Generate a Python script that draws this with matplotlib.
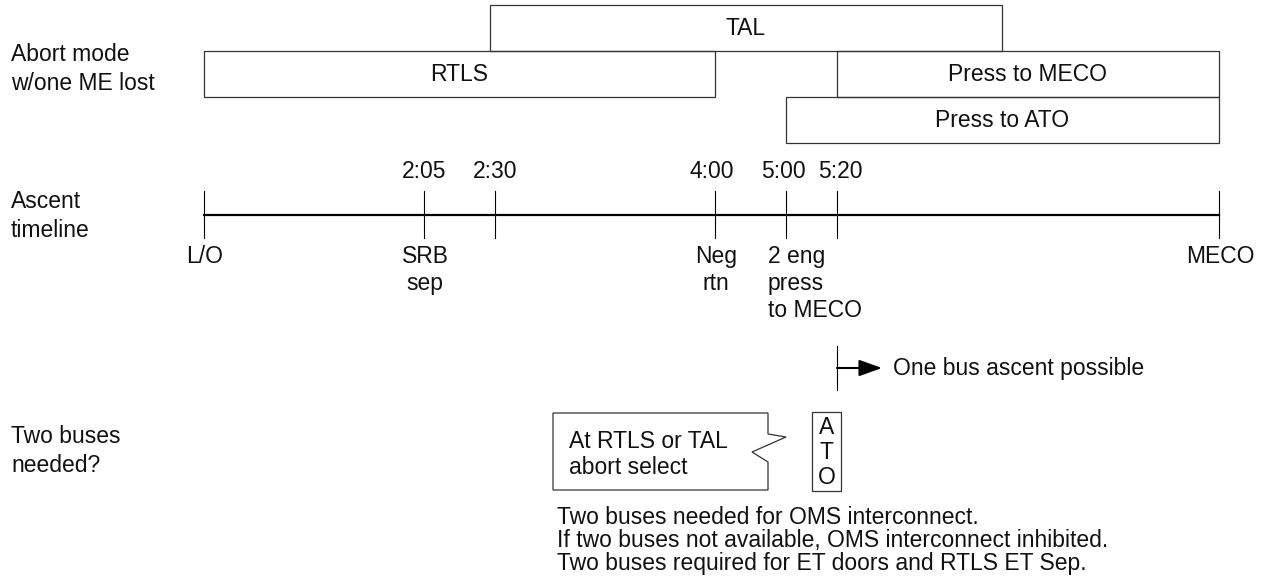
import matplotlib
matplotlib.use("Agg")
import matplotlib.pyplot as plt
from matplotlib.patches import Rectangle, Polygon

plt.rcParams['font.family'] = ['Liberation Sans', 'DejaVu Sans']

# schematic positions along the ascent (diagram units, L/O -> MECO)
tick_times = ["", "2:05", "2:30", "4:00", "5:00", "5:20", ""]
tick_events = ["L/O", "SRB\nsep", "", "Neg\nrtn", "", "", "MECO"]
tick_pos = [204, 424, 495, 715, 786, 837, 1219]

# abort modes with one main engine lost
modes = ["TAL", "RTLS", "Press to MECO", "Press to ATO"]
mode_start = [490, 204, 837, 786]
mode_end = [1002, 715, 1219, 1219]
mode_row = [0, 1, 1, 2]

row_labels = ["Abort mode\nw/one ME lost", "Ascent\ntimeline", "Two buses\nneeded?"]
row_label_base = [61, 208, 443]

notes = ["Two buses needed for OMS interconnect.",
         "If two buses not available, OMS interconnect inhibited.",
         "Two buses required for ET doors and RTLS ET Sep."]

FS = 16.5
INK = '#111111'

# small nudges so the crowded time labels don't touch
nudge = {"4:00": -3, "5:00": -3, "5:20": 3}

fig = plt.figure(figsize=(12.68, 5.86), dpi=100)
ax = fig.add_axes([0, 0, 1, 1])
ax.set_xlim(0, 1268)
ax.set_ylim(586, 0)
ax.axis('off')

# abort mode bars
row_top, row_h = 5, 46
for name, x0, x1, r in zip(modes, mode_start, mode_end, mode_row):
    y0 = row_top + r * row_h
    ax.add_patch(Rectangle((x0, y0), x1 - x0, row_h, fill=False, ec='#333333', lw=0.9))
    ax.text((x0 + x1) / 2, y0 + row_h / 2 + 7, name, ha='center', va='baseline',
            fontsize=FS, color=INK)

# ascent timeline
line_y = 215
ax.plot([tick_pos[0], tick_pos[-1]], [line_y, line_y], color='black', lw=1.6)
for x, t, ev in zip(tick_pos, tick_times, tick_events):
    ax.plot([x, x], [191, 238], color='black', lw=0.8)
    if t:
        ax.text(x + nudge.get(t, 0), 178, t, ha='center', va='baseline', fontsize=FS, color=INK)
    for i, part in enumerate(ev.split("\n") if ev else []):
        ax.text(x + 1, 263 + i * 27, part, ha='center', va='baseline', fontsize=FS, color=INK)
for i, part in enumerate(["2 eng", "press", "to MECO"]):
    ax.text(tick_pos[4] - 18, 263 + i * 27, part, ha='left', va='baseline', fontsize=FS, color=INK)

# one bus ascent
ax.plot([tick_pos[5], tick_pos[5]], [346, 390], color='black', lw=0.8)
ax.annotate('', xy=(882, 368), xytext=(tick_pos[5], 368),
            arrowprops=dict(arrowstyle='-|>,head_length=0.7,head_width=0.25',
                            mutation_scale=20, lw=1.5, color='black',
                            shrinkA=0, shrinkB=0))
ax.text(893, 375, "One bus ascent possible", ha='left', va='baseline', fontsize=FS, color=INK)

# callout box
callout = [(553, 413), (768, 413), (768, 434), (786, 437), (752, 452),
           (768, 462), (768, 490), (553, 490)]
ax.add_patch(Polygon(callout, closed=True, fill=False, ec='#333333', lw=0.9))
ax.text(569, 448, "At RTLS or TAL", ha='left', va='baseline', fontsize=FS, color=INK)
ax.text(569, 474, "abort select", ha='left', va='baseline', fontsize=FS, color=INK)

# ATO box
ax.add_patch(Rectangle((812, 412), 29, 79, fill=False, ec='#333333', lw=0.9))
for i, ch in enumerate("ATO"):
    ax.text(826.5, 434 + i * 25, ch, ha='center', va='baseline', fontsize=FS, color=INK)

for i, line in enumerate(notes):
    ax.text(557, 524 + i * 23, line, ha='left', va='baseline', fontsize=FS, color=INK)

# row labels on the left
for lab, y in zip(row_labels, row_label_base):
    for i, part in enumerate(lab.split("\n")):
        ax.text(11, y + i * 29, part, ha='left', va='baseline', fontsize=FS, color=INK)

fig.savefig("out.png", dpi=100)
